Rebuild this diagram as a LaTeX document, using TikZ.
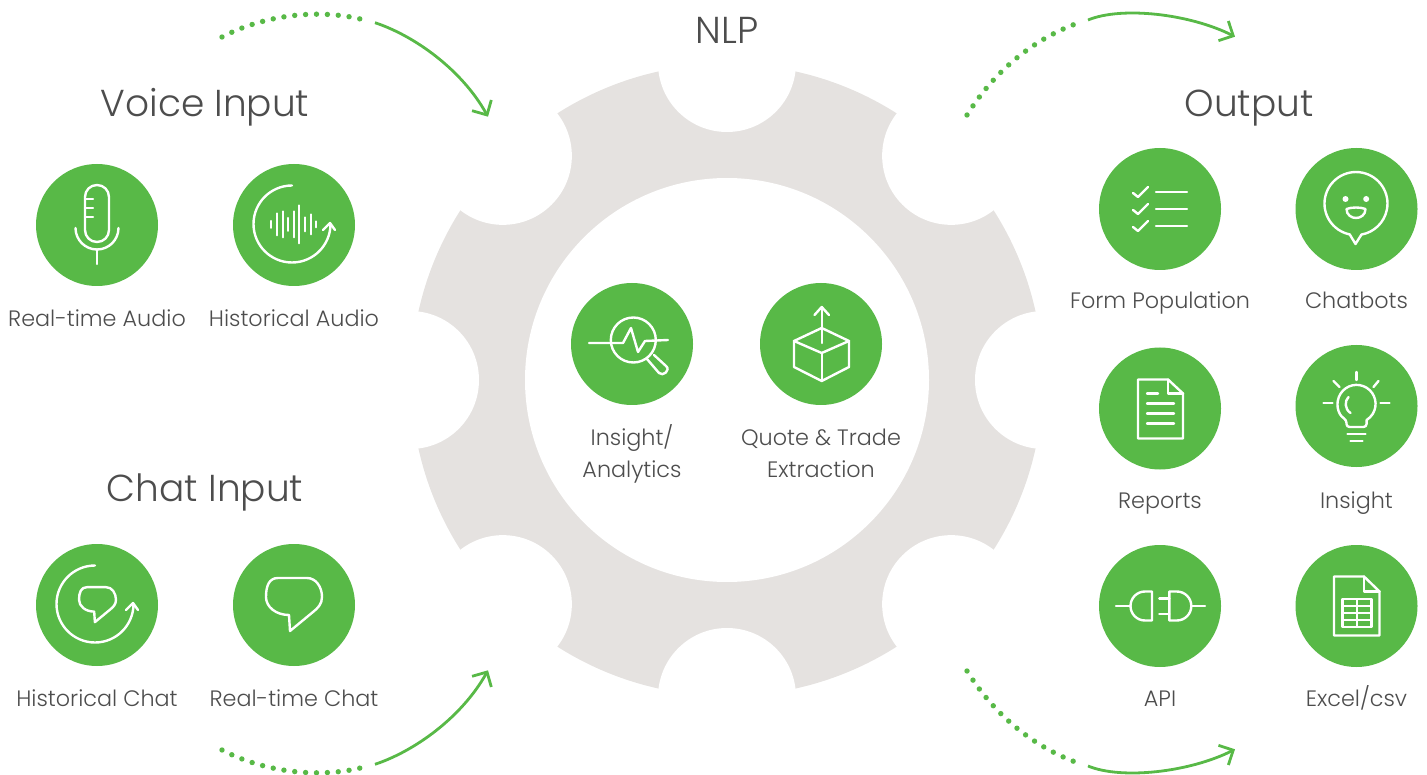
\documentclass[tikz,border=0pt]{standalone}
\usepackage{fontspec}
\setmainfont{Poppins}[UprightFont=* Light]
\usetikzlibrary{arrows.meta}

\definecolor{leaf}{HTML}{58B947}
\definecolor{cog}{HTML}{E5E2E0}
\definecolor{ink}{HTML}{4D4D4D}

\tikzset{
	flip/.style={yscale=-1},
	badge/.style={circle, fill=leaf, minimum size=122pt, inner sep=0pt},
	caption/.style={text=ink, align=center, inner sep=0pt, text height=16pt, text depth=5.5pt, font=\fontsize{22.3}{32}\selectfont},
	heading/.style={text=ink, inner sep=0pt, text height=28pt, text depth=8pt, font=\fontsize{37.5}{44}\selectfont},
	icon/.style={draw=white, line width=2.4pt, line cap=round, line join=round},
	dotarc/.style={draw=leaf, line width=5.4pt, line cap=round, dash pattern=on 0pt off 10.9pt},
	solidarc/.style={draw=leaf, line width=2.8pt, -{Straight Barb[length=11pt, width=22pt]}},
	% line icons, drawn about the centre of a badge
	micicon/.pic={
		\draw[icon, rounded corners=11.9pt] (-12,-40) rectangle (12,17);
		\foreach \t in {-26,-17,-8} { \draw[icon] (-12,\t) -- (-4,\t); }
		\draw[icon] (-21.5,3) arc[start angle=180, end angle=0, radius=21.5];
		\draw[icon] (0,25) -- (0,39);
	},
	looparrow/.pic={
		\draw[icon] (-2,-39.5) arc[start angle=270, end angle=0, radius=38.5];
		\draw[icon] (29,5) -- (36,-2) -- (41,5);
	},
	audioicon/.pic={
		\draw[icon] (-2,-39.5) arc[start angle=270, end angle=0, radius=38.5];
		\draw[icon] (29,5) -- (36,-2) -- (41,5);
		\foreach \bx/\bh in {-23/3.5, -17/11, -11.3/13, -5.7/6.5, 0/13, 5.3/19, 11/7, 17/10, 22.3/3} {
			\draw[icon, line width=2pt] (\bx,-0.7-\bh) -- (\bx,-0.7+\bh);
		}
	},
	bubble/.pic={
		\draw[icon] (-16,-27) -- (13,-27) .. controls (22,-27) and (28,-18) .. (28,-8)
			.. controls (28,-1) and (24,3) .. (19,7) -- (-4,26) -- (-5,10)
			.. controls (-18,10) and (-28,2) .. (-28,-8)
			.. controls (-28,-19) and (-25,-27) .. (-16,-27) -- cycle;
	},
	lensicon/.pic={
		\draw[icon] (1.3,-4) circle (22.5);
		\draw[icon] (-43,-1) -- (-9,-1) -- (-1,-16) -- (6,8) -- (13,-3) -- (36,-4);
		\draw[icon] (15,15) -- (27,29) .. controls (31,33) and (39,26) .. (34,22) -- (22,11);
	},
	boxicon/.pic={
		\draw[icon] (0.7,-16) -- (-27,-3) -- (-27,23) -- (0.7,37) -- (28,23) -- (28,-3) -- cycle;
		\draw[icon] (-27,-3) -- (0.7,9) -- (28,-3);
		\draw[icon] (0.7,9) -- (0.7,37);
		\draw[icon] (0.7,-1) -- (0.7,-37);
		\draw[icon] (-6.5,-29) -- (0.7,-37) -- (8,-29);
	},
	formicon/.pic={
		\foreach \t in {-17,0,17} {
			\draw[icon] (-4,\t) -- (27,\t);
			\draw[icon] (-27,\t+1) -- (-22,\t+5) -- (-12,\t-5);
		}
	},
	boticon/.pic={
		\draw[icon] (-6.8,25.4) arc[start angle=101.5, end angle=440, radius=31.5] -- (-1,35) -- cycle;
		\fill[white] (-11,-10) circle (3);
		\fill[white] (9.7,-10) circle (3);
		\draw[icon] (-10,0) .. controls (-5,-2) and (4,-2) .. (9,0)
			.. controls (9,6) and (4,9) .. (-0.5,9) .. controls (-5,9) and (-10,6) .. (-10,0) -- cycle;
	},
	reporticon/.pic={
		\draw[icon] (-22,-29) -- (8,-29) -- (23,-15) -- (23,30) -- (-22,30) -- cycle;
		\draw[icon] (8,-29) -- (8,-15) -- (23,-15);
		\draw[icon] (-13,-15) -- (-2,-15);
		\foreach \t in {-5,5,15} { \draw[icon] (-13,\t) -- (14,\t); }
	},
	bulbicon/.pic={
		\draw[icon] (0,-34) -- (0,-26);
		\draw[icon] (-33,-3) -- (-24,-3);
		\draw[icon] (24,-3) -- (33,-3);
		\draw[icon] (-23,-25) -- (-17,-19);
		\draw[icon] (22,-25) -- (17,-19);
		\draw[icon] (-10,14) arc[start angle=122, end angle=418, radius=19] [rounded corners=3pt] -- (10,21) -- (-10,21) -- cycle;
		\draw[icon] (-8,-9) .. controls (-12,-5) and (-12,3) .. (-6,7);
		\draw[icon] (-9,28) -- (9,28);
		\draw[icon] (-6,35) -- (6,35);
	},
	plugicon/.pic={
		\draw[icon] (-44,0) -- (-30,0);
		\draw[icon] (-8,-14.5) -- (-15,-14.5) arc[start angle=270, end angle=90, radius=14.5] -- (-8,14.5) -- cycle;
		\draw[icon] (9.3,-14.5) -- (16.8,-14.5) arc[start angle=-90, end angle=90, radius=14.5] -- (9.3,14.5) -- cycle;
		\draw[icon] (-0.7,-7.7) -- (9.3,-7.7);
		\draw[icon] (-0.7,7.7) -- (9.3,7.7);
		\draw[icon] (31.3,0) -- (45,0);
	},
	sheeticon/.pic={
		\draw[icon] (-22.5,-29.5) -- (7.5,-29.5) -- (23,-14.5) -- (23,29.5) -- (-22.5,29.5) -- cycle;
		\draw[icon] (7.5,-29.5) -- (7.5,-14.5) -- (23,-14.5);
		\draw[icon] (-14,-7) rectangle (15,21);
		\foreach \t in {0,7,14} { \draw[icon, line width=2pt] (-14,\t) -- (15,\t); }
		\draw[icon, line width=2pt] (0.5,-7) -- (0.5,21);
	},
}

\begin{document}
\begin{tikzpicture}[x=1pt, y=1pt, yscale=-1]
	\useasboundingbox (0,0) rectangle (1427,775);

	% gear
	\coordinate (hub) at (727,380);
	\fill[cog] (hub) circle (316);
	\foreach \a in {0,45,...,315} {
		\fill[white] ([shift={(\a:317)}]hub) circle (69);
	}
	\fill[white] (hub) circle (202);

	% titles
	\node[heading] (nlp) at (727,34) {NLP};
	\node[heading] (voice) at (205,107) {Voice Input};
	\node[heading] (chat) at (205,491) {Chat Input};
	\node[heading] (output) at (1249,107) {Output};

	% badges and what is written under them
	\foreach \nm/\px/\py/\ly/\txt in {
		mic/97/225/321.5/{Real-time Audio}, audio/294/225/321.5/{Historical Audio},
		hchat/97/605/701.5/{Historical Chat}, rchat/294/605/701.5/{Real-time Chat},
		lens/632/344/472/{Insight/\\Analytics}, box/821/344/472/{Quote \& Trade\\Extraction},
		form/1160/209/303.5/{Form Population}, bot/1356.5/209/303.5/{Chatbots},
		report/1160/408.5/503.5/{Reports}, bulb/1356.5/406/503.5/{Insight},
		plug/1160/606/701.5/{API}, sheet/1356.5/606/701.5/{Excel/csv}} {
		\node[badge] (\nm) at (\px,\py) {};
		\node[caption] (\nm txt) at (\px,\ly) {\txt};
	}

	\pic[flip] at (mic) {micicon};
	\pic[flip] at (audio) {audioicon};
	\pic[flip] at (hchat) {looparrow};
	\pic[flip, scale=.66] at ([shift={(0.5,0)}]hchat) {bubble};
	\pic[flip] at (rchat) {bubble};
	\pic[flip] at (lens) {lensicon};
	\pic[flip] at (box) {boxicon};
	\pic[flip] at (form) {formicon};
	\pic[flip] at (bot) {boticon};
	\pic[flip] at (report) {reporticon};
	\pic[flip] at (bulb) {bulbicon};
	\pic[flip] at (plug) {plugicon};
	\pic[flip] at (sheet) {sheeticon};

	% dotted lead-in, then solid arrow
	\coordinate (a1) at (222,37);  \coordinate (a2) at (367,20.7);
	\coordinate (a3) at (375,22.7); \coordinate (a4) at (488,116.7);
	\draw[dotarc] (a1) .. controls (262,16) and (318,7) .. (a2);
	\draw[solidarc] (a3) .. controls (415,36) and (462,70) .. (a4);

	\coordinate (b1) at (222,750);  \coordinate (b2) at (367,766.3);
	\coordinate (b3) at (375,764.3); \coordinate (b4) at (488,670.3);
	\draw[dotarc] (b1) .. controls (262,771) and (318,780) .. (b2);
	\draw[solidarc] (b3) .. controls (415,751) and (462,717) .. (b4);

	\coordinate (c1) at (967,115);  \coordinate (c2) at (1080,22.3);
	\coordinate (c3) at (1088,20);  \coordinate (c4) at (1235,36.7);
	\draw[dotarc] (c1) .. controls (995,70) and (1035,38) .. (c2);
	\draw[solidarc] (c3) .. controls (1122,6) and (1190,14) .. (c4);

	\coordinate (d1) at (967,671);  \coordinate (d2) at (1080,763.7);
	\coordinate (d3) at (1088,766); \coordinate (d4) at (1235,749.3);
	\draw[dotarc] (d1) .. controls (995,716) and (1035,748) .. (d2);
	\draw[solidarc] (d3) .. controls (1122,780) and (1190,772) .. (d4);
\end{tikzpicture}
\end{document}
